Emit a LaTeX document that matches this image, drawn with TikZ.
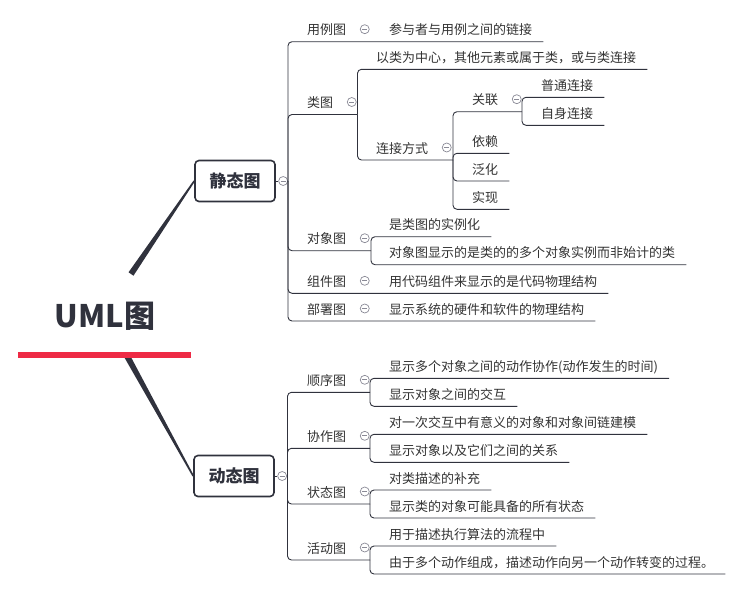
\documentclass[tikz,border=0pt]{standalone}
\usepackage{fontspec}
\setmainfont{Noto Sans CJK SC}
\usepackage{tikz}
\usetikzlibrary{positioning,calc}
\definecolor{MapInk}{HTML}{30323D}
\definecolor{MapText}{HTML}{333333}
\definecolor{MapRed}{HTML}{EE2A45}
\definecolor{MapGray}{HTML}{8A8A96}
\tikzset{
  topic/.style={anchor=west,inner sep=0pt,text height=12pt,text depth=1pt,font=\fontsize{13pt}{15pt}\selectfont,text=MapText},
  leaf/.style={topic},
  mainbox/.style={draw=MapInk,line width=1.6pt,rounded corners=4pt,fill=white,minimum width=80pt,minimum height=41pt,font=\bfseries\fontsize{17pt}{20pt}\selectfont,text=MapInk},
  rootlabel/.style={inner sep=0pt,font=\bfseries\fontsize{31pt}{34pt}\selectfont,text=MapInk},
  collapse/.style={circle,draw=MapGray,line width=0.7pt,fill=white,inner sep=0pt,minimum size=9pt,
    path picture={\draw[MapGray,line width=0.7pt] ([xshift=-2.6pt]path picture bounding box.center) -- ([xshift=2.6pt]path picture bounding box.center);}},
  link/.style={draw=MapInk,line width=0.9pt,rounded corners=4pt},
  rootarm/.style={fill=MapInk},
  rootline/.style={draw=MapRed,line width=5.5pt}
}

\begin{document}
\begin{tikzpicture}[x=1pt,y=-1pt]
\useasboundingbox (0,0) rectangle (741,590);

% root
\node[rootlabel] (root) at (105,316) {UML图};
\coordinate (r1) at (131,274);
\coordinate (r2) at (127,356);
\node[mainbox] (s) at (235,181) {静态图};
\node[mainbox] (d) at (234,476) {动态图};
\fill[rootarm] ($(r1)!3pt!90:(s.west)$) -- ($(s.west)!0.8pt!-90:(r1)$) -- ($(s.west)!0.8pt!90:(r1)$) -- ($(r1)!3pt!-90:(s.west)$) -- cycle;
\fill[rootarm] ($(r2)!3pt!90:(d.west)$) -- ($(d.west)!0.8pt!-90:(r2)$) -- ($(d.west)!0.8pt!90:(r2)$) -- ($(r2)!3pt!-90:(d.west)$) -- cycle;
\draw[rootline] (18,355) -- (191,355);

% static branch
\node[collapse,right=2.5pt of s] (sc) {};
\coordinate (st) at (288,181);
\draw[link] (s.east) -- (sc.west);
\draw[link] (sc.east) -- (st);

\node[topic] (t1) at (307,29.2) {用例图};
\node[collapse,right=13.5pt of t1] (t1c) {};
\node[leaf] (l1) at (389,29.2) {参与者与用例之间的链接};
\draw[link] (st) |- ([shift={(11pt,-12.5pt)}]l1.east);

\node[topic] (t2) at (307,102) {类图};
\node[collapse,right=13.5pt of t2] (t2c) {};
\coordinate (t2j) at (357.5,114.5);
\draw[link] (st) |- (t2j);
\node[leaf] (l2a) at (376,56.8) {以类为中心，其他元素或属于类，或与类连接};
\draw[link] (t2j) |- ([shift={(11pt,-12.5pt)}]l2a.east);

\node[topic] (t3) at (376,147.5) {连接方式};
\node[collapse,right=13.5pt of t3] (t3c) {};
\coordinate (t3j) at (453,160);
\draw[link] (t2j) |- (t3j);

\node[topic] (t4) at (472,99.2) {关联};
\node[collapse,right=13.5pt of t4] (t4c) {};
\coordinate (t4j) at (522,111.7);
\draw[link] (t3j) |- (t4j);
\node[leaf] (l4a) at (541,84.8) {普通连接};
\node[leaf] (l4b) at (541,112.8) {自身连接};
\draw[link] (t4j) |- ([shift={(11pt,-12.5pt)}]l4a.east);
\draw[link] (t4j) |- ([shift={(11pt,-12.5pt)}]l4b.east);

\node[leaf] (l3b) at (472,140.8) {依赖};
\node[leaf] (l3c) at (472,168.5) {泛化};
\node[leaf] (l3d) at (472,196.8) {实现};
\draw[link] (t3j) |- ([shift={(11pt,-12.5pt)}]l3b.east);
\draw[link] (t3j) |- ([shift={(11pt,-12.5pt)}]l3c.east);
\draw[link] (t3j) |- ([shift={(11pt,-12.5pt)}]l3d.east);

\node[topic] (t5) at (307,238.2) {对象图};
\node[collapse,right=13.5pt of t5] (t5c) {};
\coordinate (t5j) at (371,250.7);
\draw[link] (st) |- (t5j);
\node[leaf] (l5a) at (389,224.2) {是类图的实例化};
\node[leaf] (l5b) at (389,252.2) {对象图显示的是类的的多个对象实例而非始计的类};
\draw[link] (t5j) |- ([shift={(11pt,-12.5pt)}]l5a.east);
\draw[link] (t5j) |- ([shift={(11pt,-12.5pt)}]l5b.east);

\node[topic] (t6) at (307,280.8) {组件图};
\node[collapse,right=13.5pt of t6] (t6c) {};
\node[leaf] (l6) at (389,280.8) {用代码组件来显示的是代码物理结构};
\draw[link] (st) |- ([shift={(11pt,-12.5pt)}]l6.east);

\node[topic] (t7) at (307,308.5) {部署图};
\node[collapse,right=13.5pt of t7] (t7c) {};
\node[leaf] (l7) at (389,308.5) {显示系统的硬件和软件的物理结构};
\draw[link] (st) |- ([shift={(11pt,-12.5pt)}]l7.east);

% dynamic branch
\node[collapse,right=2.5pt of d] (dc) {};
\coordinate (dt) at (287.5,476);
\draw[link] (d.east) -- (dc.west);
\draw[link] (dc.east) -- (dt);

\foreach \i/\uy/\tn/\ca/\cb in {
  1/392.3/顺序图/显示多个对象之间的动作协作(动作发生的时间)/显示对象之间的交互,
  2/448.3/协作图/对一次交互中有意义的对象和对象间链建模/显示对象以及它们之间的关系,
  3/504/状态图/对类描述的补充/显示类的对象可能具备的所有状态,
  4/560/活动图/用于描述执行算法的流程中/由于多个动作组成，描述动作向另一个动作转变的过程。}{
  \node[topic] (dn\i) at (307,\uy-12.5) {\tn};
  \node[collapse,right=13.5pt of dn\i] (dnc\i) {};
  \coordinate (dj\i) at (370,\uy);
  \draw[link] (dt) |- (dj\i);
  \node[leaf] (dla\i) at (389,\uy-26.5) {\ca};
  \node[leaf] (dlb\i) at (389,\uy+1.5) {\cb};
  \draw[link] (dj\i) |- ([shift={(11pt,-12.5pt)}]dla\i.east);
  \draw[link] (dj\i) |- ([shift={(11pt,-12.5pt)}]dlb\i.east);
}
\end{tikzpicture}
\end{document}
